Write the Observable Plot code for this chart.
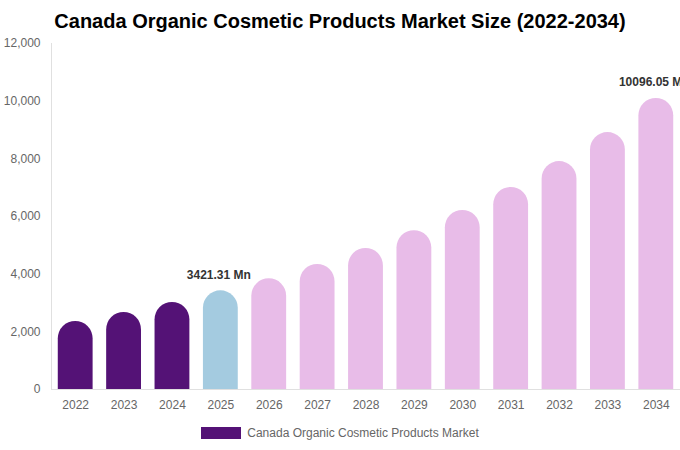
<!DOCTYPE html>
<html><head><meta charset="utf-8">
<script src="https://cdn.jsdelivr.net/npm/d3@7"></script>
<script src="https://cdn.jsdelivr.net/npm/@observablehq/plot@0.6"></script>
<style>
body{margin:0;background:#fff;font-family:"Liberation Sans",Arial,sans-serif;width:680px;overflow:hidden;}
#title{padding-top:9px;height:26px;line-height:24px;font-size:20px;font-weight:bold;text-align:center;color:#000;}
#chart{height:380px;overflow:hidden;}
#legend{height:35px;display:flex;justify-content:center;align-items:center;font-size:12px;color:#666;padding-bottom:0;}
#legend .sw{width:40px;height:12px;background:#541276;margin-right:6px;}
</style></head><body>
<div id="title">Canada Organic Cosmetic Products Market Size (2022-2034)</div>
<div id="chart"></div>
<div id="legend"><div class="sw"></div><span>Canada Organic Cosmetic Products Market</span></div>
<script>
const years = ["2022","2023","2024","2025","2026","2027","2028","2029","2030","2031","2032","2033","2034"];
const values = [2360, 2670, 3020, 3421.31, 3840, 4335, 4890, 5510, 6210, 7010, 7905, 8910, 10096.05];
const colors = ["#541276","#541276","#541276","#a4cbe0","#e8bce8","#e8bce8","#e8bce8","#e8bce8","#e8bce8","#e8bce8","#e8bce8","#e8bce8","#e8bce8"];
const yTicks = [0, 2000, 4000, 6000, 8000, 10000, 12000];
const labeled = ["2025", "2034"];
const labelTexts = ["3421.31 Mn", "10096.05 Mn"];

const data = years.map((y, i) => ({year: y, value: values[i], color: colors[i]}));
const labels = labeled.map((y, i) => ({year: y, value: values[years.indexOf(y)], text: labelTexts[i]}));

const chart = Plot.plot({
  width: 680,
  height: 380,
  marginLeft: 51,
  marginRight: 0,
  marginTop: 8,
  marginBottom: 26,
  style: {fontFamily: "Liberation Sans, Arial, sans-serif", fontSize: "12px", background: "#fff", overflow: "hidden"},
  x: {domain: years, paddingInner: 0.28, paddingOuter: 0.14, round: false, label: null},
  y: {domain: [0, 12000], label: null},
  color: {type: "identity"},
  marks: [
    Plot.barY(data, {x: "year", y1: -1000, y2: "value", fill: "color", rx: 17.42, ry: 17.42, clip: "frame"}),
    Plot.frame({anchor: "left", stroke: "#e0e0e0"}),
    Plot.ruleY([0], {stroke: "#e0e0e0"}),
    Plot.axisY({ticks: yTicks, tickSize: 0, tickPadding: 11, tickFormat: d3.format(","), color: "#666", fontSize: 12, label: null}),
    Plot.axisX({tickSize: 0, tickPadding: 11, color: "#666", fontSize: 12, label: null}),
    Plot.text(labels, {x: "year", y: "value", text: "text", dy: -16, dx: -2, fontWeight: "bold", fontSize: 12, fill: "#333"})
  ]
});
document.getElementById("chart").appendChild(chart);
</script>
</body></html>
